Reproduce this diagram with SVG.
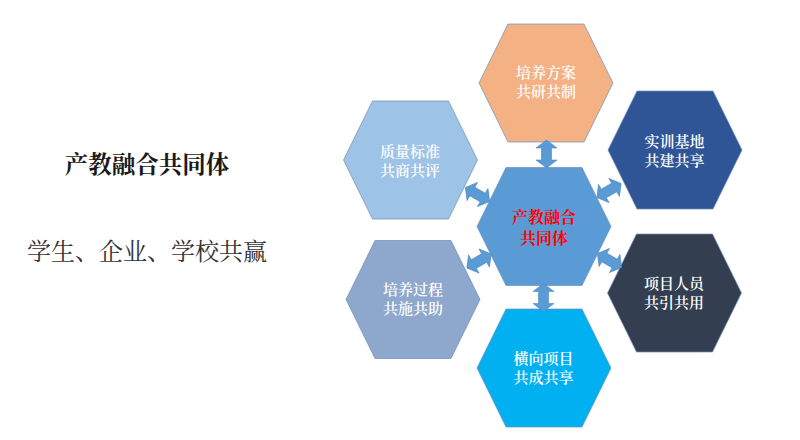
<svg xmlns="http://www.w3.org/2000/svg" width="800" height="440" viewBox="0 0 800 440">
<style>
  text { font-family: "Noto Serif CJK SC", "Noto Sans CJK SC", serif; text-anchor: middle; }
  .hl { fill: #ffffff; font-size: 15px; font-weight: 600; }
  .hc { fill: #ff0000; font-size: 16px; font-weight: bold; }
  .hex { stroke: #6f8fb8; stroke-width: 1; stroke-opacity: 0.7; }
  .arr { fill: #5b9bd5; stroke: #4a86bf; stroke-width: 0.6; }
  .title { fill: #1a1a1a; font-size: 23.5px; font-weight: bold; }
  .sub { fill: #333333; font-size: 24px; }
</style>
<defs>
  <polygon id="hexshape" points="-38,-59 38,-59 67,0 38,59 -38,59 -67,0"/>
  <polygon id="darrow" points="-14,0 -6,-10.5 -6,-5 6,-5 6,-10.5 14,0 6,10.5 6,5 -6,5 -6,10.5"/>
</defs>
<rect width="800" height="440" fill="#ffffff"/>

<g id="left-text">
  <text class="title" x="147" y="173">产教融合共同体</text>
  <text class="sub" x="147" y="260">学生、企业、学校共赢</text>
</g>

<g id="node-top">
  <use href="#hexshape" class="hex" x="546" y="83" fill="#f4b183"/>
  <text class="hl" x="546" y="78">培养方案</text>
  <text class="hl" x="546" y="97">共研共制</text>
</g>
<g id="node-topleft">
  <use href="#hexshape" class="hex" x="410.5" y="160" fill="#9dc3e6"/>
  <text class="hl" x="410" y="157">质量标准</text>
  <text class="hl" x="410" y="176">共商共评</text>
</g>
<g id="node-topright">
  <use href="#hexshape" class="hex" x="675" y="150" fill="#2f5597"/>
  <text class="hl" x="674.5" y="147">实训基地</text>
  <text class="hl" x="674.5" y="166">共建共享</text>
</g>
<g id="node-center">
  <use href="#hexshape" class="hex" x="544" y="226.5" fill="#5b9bd5"/>
  <text class="hc" x="544" y="222.5">产教融合</text>
  <text class="hc" x="544" y="243.5">共同体</text>
</g>
<g id="node-bottomleft">
  <use href="#hexshape" class="hex" x="413" y="299.5" fill="#8ea7cc"/>
  <text class="hl" x="413" y="295">培养过程</text>
  <text class="hl" x="413" y="314">共施共助</text>
</g>
<g id="node-bottomright">
  <use href="#hexshape" class="hex" x="674.5" y="293" fill="#333f50"/>
  <text class="hl" x="674" y="288.5">项目人员</text>
  <text class="hl" x="674" y="307.5">共引共用</text>
</g>
<g id="node-bottom">
  <use href="#hexshape" class="hex" x="544" y="368" fill="#00b0f0"/>
  <text class="hl" x="543.5" y="363.5">横向项目</text>
  <text class="hl" x="543.5" y="382.5">共成共享</text>
</g>

<g id="connectors">
  <use href="#darrow" class="arr" transform="translate(546.5,154) rotate(90)"/>
  <use href="#darrow" class="arr" transform="translate(543.5,297.5) rotate(90)"/>
  <use href="#darrow" class="arr" transform="translate(477.5,194.5) rotate(30)"/>
  <use href="#darrow" class="arr" transform="translate(609,190.5) rotate(-30)"/>
  <use href="#darrow" class="arr" transform="translate(479,261) rotate(-30)"/>
  <use href="#darrow" class="arr" transform="translate(609.5,260.5) rotate(30)"/>
</g>
</svg>
